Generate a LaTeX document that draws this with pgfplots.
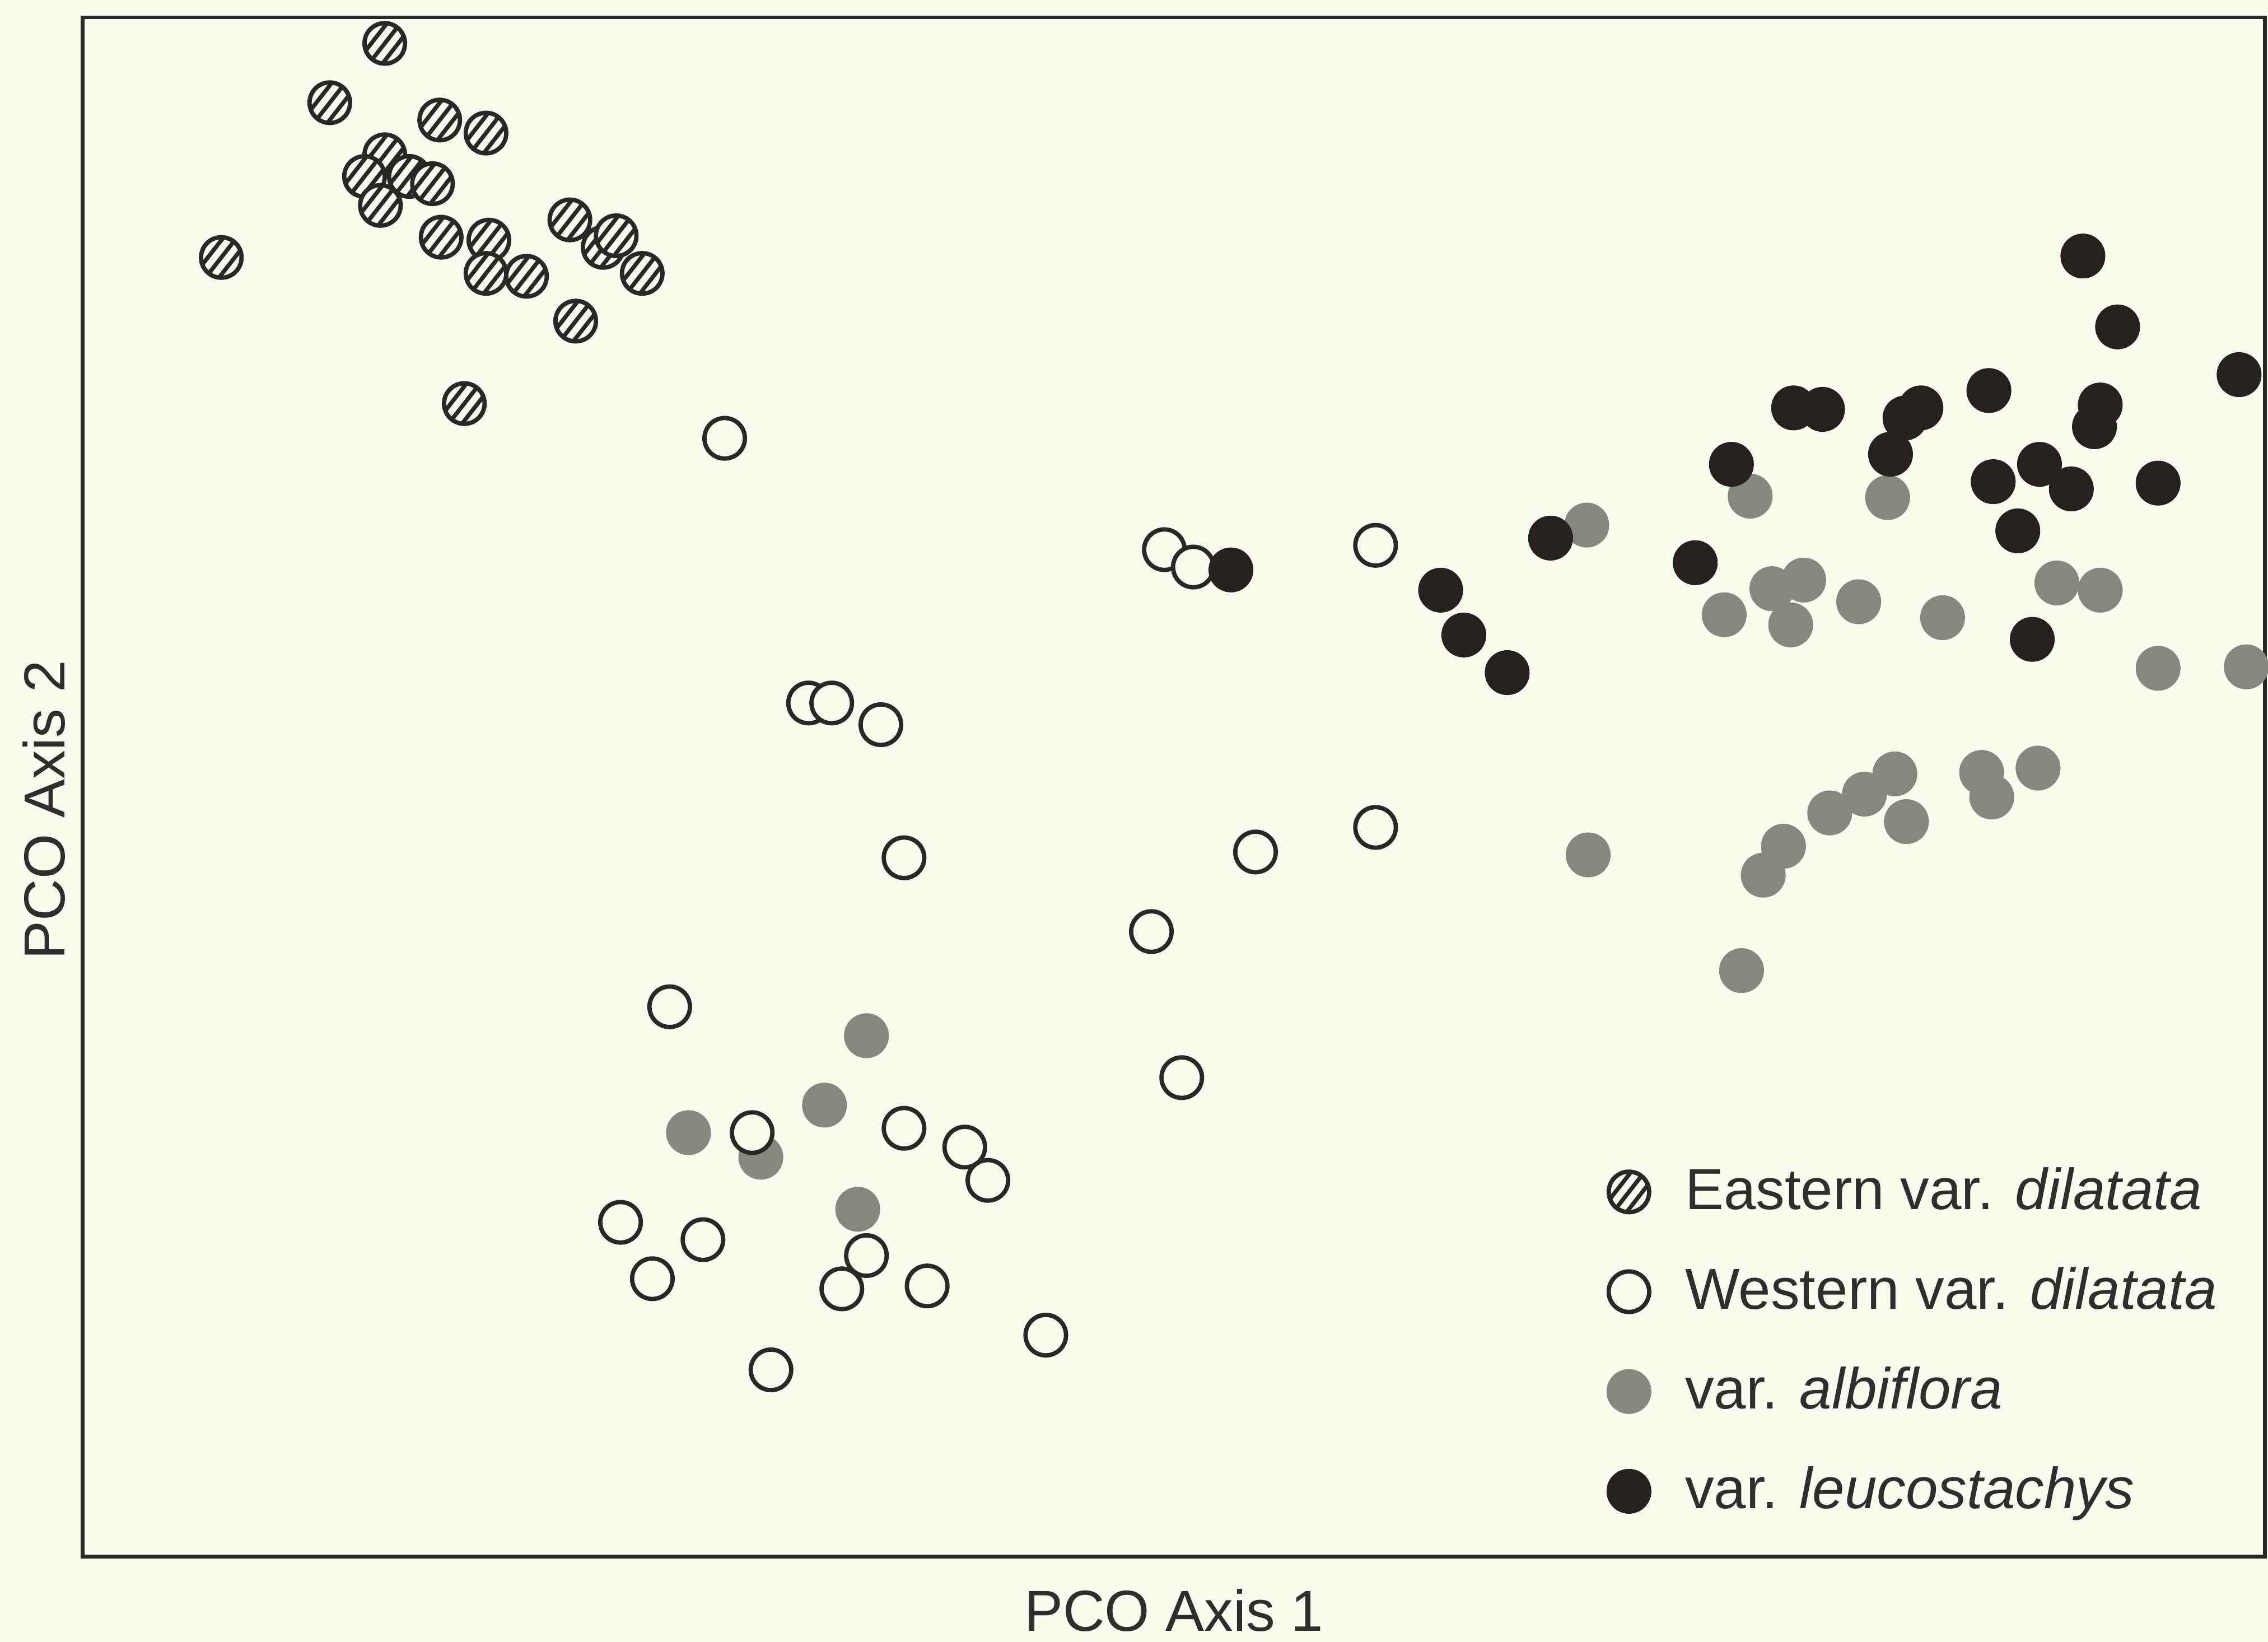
\documentclass[border=0pt]{standalone}
\usepackage{fontspec}
\setmainfont{Liberation Sans}
\usepackage{pgfplots}
\pgfplotsset{compat=1.18}
\definecolor{bgc}{RGB}{252,251,240}
\definecolor{darkc}{RGB}{42,40,38}
\definecolor{grayc}{RGB}{136,135,126}
\definecolor{blackc}{RGB}{38,33,30}
\definecolor{txtc}{RGB}{48,46,44}
\pgfdeclareplotmark{hatched}{%
  \pgfpathcircle{\pgfpointorigin}{\pgfplotmarksize}%
  \pgfsetfillcolor{bgc}\pgfusepath{fill}%
  \begin{pgfscope}%
    \pgfpathcircle{\pgfpointorigin}{\pgfplotmarksize}\pgfusepath{clip}%
    \pgftransformrotate{52}%
    \pgfsetlinewidth{0.85pt}%
    \foreach \k in {-2,...,2}{%
      \pgfpathmoveto{\pgfpoint{-6pt}{\k*2.2pt}}%
      \pgfpathlineto{\pgfpoint{6pt}{\k*2.2pt}}}%
    \pgfusepath{stroke}%
  \end{pgfscope}%
  \pgfpathcircle{\pgfpointorigin}{\pgfplotmarksize}\pgfusepath{stroke}%
}
\begin{document}
\begin{tikzpicture}
\fill[bgc] (-17.1pt,-17.7pt) rectangle (453.3pt,322.8pt);
\begin{axis}[
  scale only axis, width=452.7pt, height=319.2pt,
  xmin=57, xmax=1566, ymin=59, ymax=1123,
  xtick=\empty, ytick=\empty,
  axis background/.style={fill=bgc},
  axis line style={line width=0.8pt, draw=darkc},
  clip=false,
  font=\fontsize{12}{14}\selectfont,
  xlabel={PCO Axis 1}, ylabel={PCO Axis 2},
  x label style={at={(axis description cs:0.5,0)}, anchor=north, yshift=-3.2pt, text=txtc},
  y label style={at={(axis description cs:0,0.485)}, anchor=south, text=txtc},
  legend style={at={(axis cs:1100,342)}, anchor=north west, draw=none, fill=none,
    font=\fontsize{12}{14}\selectfont, text=txtc, row sep=6.5pt, column sep=5pt},
  legend cell align=left,
]
\addlegendimage{only marks, mark=hatched, mark size=4.2pt, color=darkc, mark options={line width=0.9pt}}
\addlegendentry{Eastern var. \textit{dilatata}}
\addlegendimage{only marks, mark=*, mark size=4.2pt, color=darkc, mark options={line width=0.9pt, draw=darkc, fill=bgc}}
\addlegendentry{Western var. \textit{dilatata}}
\addlegendimage{only marks, mark=*, mark size=4.6pt, color=grayc, mark options={draw=grayc, fill=grayc, line width=0.1pt}}
\addlegendentry{var. \textit{albiflora}}
\addlegendimage{only marks, mark=*, mark size=4.6pt, color=blackc, mark options={draw=blackc, fill=blackc, line width=0.1pt}}
\addlegendentry{var. \textit{leucostachys}}

% var. albiflora
\addplot[forget plot, only marks, mark=*, mark size=4.6pt, color=grayc, mark options={draw=grayc, fill=grayc, line width=0.1pt}] coordinates {
(1097,772) (1210,792) (1305,791) (1192,710) (1225,728) (1247,734) (1238,703)
(1285,719) (1343,708) (1422,732) (1452,727) (1492,673) (1553,674)
(1098,544) (1233,550) (1219,530) (1265,573) (1289,586) (1310,600) (1318,567)
(1370,601) (1377,584) (1409,604) (1204,464)
(476,352) (526,335) (570,371) (599,419) (593,299)
};
% Western var. dilatata
\addplot[forget plot, only marks, mark=*, mark size=4.2pt, color=darkc, mark options={line width=0.9pt, draw=darkc, fill=bgc}] coordinates {
(501,832) (805,755) (825,743) (951,758) (559,649) (575,649) (609,634)
(625,542) (868,546) (951,563) (796,491) (463,439) (817,390) (520,352)
(625,355) (667,342) (683,319) (429,290) (486,278) (451,251) (599,267)
(582,244) (641,246) (723,212) (533,188)
};
% Eastern var. dilatata
\addplot[forget plot, only marks, mark=hatched, mark size=4.2pt, color=darkc, mark options={line width=0.9pt}] coordinates {
(266,1105) (228,1064) (304,1052) (336,1043) (266,1028) (252,1013) (283,1013)
(299,1008) (263,993) (305,971) (338,969) (336,946) (364,944) (394,983)
(417,964) (426,972) (444,946) (398,913) (321,856) (153,957)
};
% var. leucostachys
\addplot[forget plot, only marks, mark=*, mark size=4.6pt, color=blackc, mark options={draw=blackc, fill=blackc, line width=0.1pt}] coordinates {
(1440,958) (1464,909) (1548,876) (1375,865) (1240,853) (1260,852) (1317,846)
(1328,853) (1452,855) (1448,840) (1197,814) (1307,821) (1378,802) (1410,814)
(1432,797) (1492,801) (1395,768) (1072,763) (1172,746) (1405,693)
(851,741) (996,727) (1012,696) (1042,670)
};
\end{axis}
\pgfresetboundingbox
\path[use as bounding box] (-17.1pt,-17.7pt) rectangle (453.3pt,322.8pt);
\end{tikzpicture}
\end{document}
